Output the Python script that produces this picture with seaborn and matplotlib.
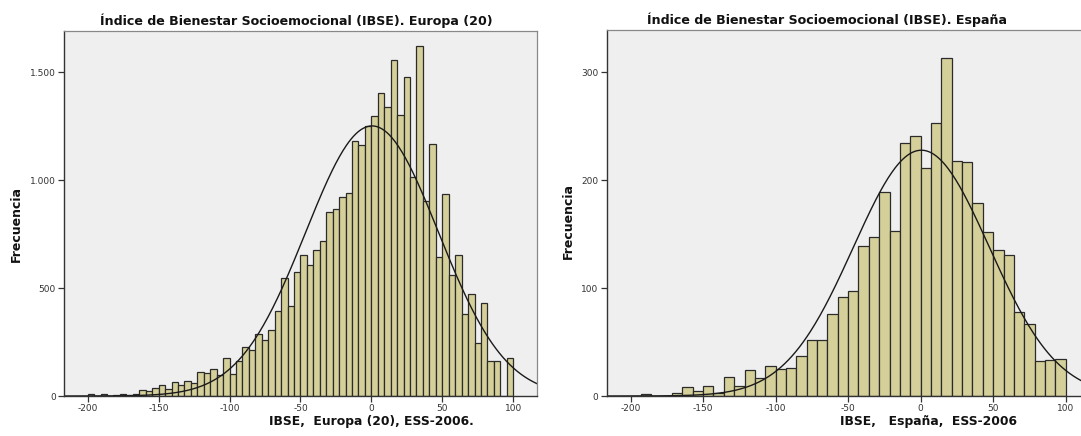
import numpy as np
import pandas as pd
import matplotlib
matplotlib.use("Agg")
import matplotlib.pyplot as plt
import seaborn as sns

# Histogram counts (bins run from -200 to 100)
europa_counts = [8, 0, 8, 0, 5, 8, 6, 11, 26, 25,
                 35, 49, 34, 65, 49, 71, 62, 113, 105, 126,
                 97, 178, 102, 163, 228, 213, 287, 258, 304, 392,
                 545, 418, 573, 654, 606, 674, 716, 852, 867, 920,
                 941, 1182, 1161, 1250, 1295, 1404, 1339, 1558, 1301, 1475,
                 1015, 1620, 903, 1165, 645, 933, 560, 651, 378, 472,
                 247, 429, 162, 162, 0, 174]
espana_counts = [0, 2, 0, 0, 3, 8, 5, 9, 3, 18,
                 9, 24, 17, 28, 25, 26, 37, 52, 52, 76,
                 92, 97, 139, 147, 189, 153, 234, 241, 211, 253,
                 313, 218, 217, 179, 152, 135, 131, 78, 67, 32,
                 33, 34]

# normal curve parameters (mean, sd) as shown by the fitted curves
europa_mu, europa_sd = 0.5, 46.8
espana_mu, espana_sd = 0.5, 46.8

europa_yticks = [0, 500, 1000, 1500]
europa_ylabels = ["0", "500", "1.000", "1.500"]
espana_yticks = [0, 100, 200, 300]
espana_ylabels = ["0", "100", "200", "300"]
xticks = [-200, -150, -100, -50, 0, 50, 100]

titles = ["Índice de Bienestar Socioemocional (IBSE). Europa (20)",
          "Índice de Bienestar Socioemocional (IBSE). España"]
xlabels = ["IBSE,  Europa (20), ESS-2006.", "IBSE,   España,  ESS-2006"]

sns.set_theme(style="white")
plt.rcParams["font.family"] = ["DejaVu Sans"]
plt.rcParams["axes.unicode_minus"] = False

W, H = 1081, 436
fig = plt.figure(figsize=(W / 100, H / 100), dpi=100)

bar_col = "#d5d09a"
bg_col = "#efefef"


def panel(ax, counts, mu, sd, yticks, ylabels, ymax):
    n = len(counts)
    w = 300 / n
    centers = [-200 + w * (i + 0.5) for i in range(n)]
    df = pd.DataFrame({"x": centers, "n": counts})
    sns.histplot(data=df, x="x", weights="n", bins=n, binrange=(-200, 100), ax=ax,
                 color=bar_col, alpha=1, edgecolor="#2b2b2b", linewidth=0.9)
    # fitted normal curve
    total = sum(counts)
    xs = np.linspace(-216.5, 117, 400)
    ys = total * w * np.exp(-0.5 * ((xs - mu) / sd) ** 2) / (sd * np.sqrt(2 * np.pi))
    sns.lineplot(x=xs, y=ys, ax=ax, color="#1a1a1a", linewidth=1.0)
    ax.set_xlim(-216.5, 117)
    ax.set_ylim(0, ymax)
    ax.set_facecolor(bg_col)
    ax.set_xticks(xticks)
    ax.set_xticklabels([str(t) for t in xticks])
    ax.set_yticks(yticks)
    ax.set_yticklabels(ylabels)
    ax.set_xlabel("")
    ax.set_ylabel("")
    ax.tick_params(axis="both", which="major", length=4, width=0.9,
                   color="#333333", labelsize=6.5, labelcolor="#333333",
                   direction="out", pad=2, bottom=True, left=True)
    for side in ["top", "right"]:
        ax.spines[side].set_color("#888888")
        ax.spines[side].set_linewidth(0.9)
    for side in ["left", "bottom"]:
        ax.spines[side].set_color("#333333")
        ax.spines[side].set_linewidth(1.0)


ax1 = fig.add_axes([64.3 / W, 40 / H, (537.3 - 64.3) / W, 365 / H])
panel(ax1, europa_counts, europa_mu, europa_sd, europa_yticks, europa_ylabels, 1690)

ax2 = fig.add_axes([606.7 / W, 40 / H, 483.6 / W, 366 / H])
panel(ax2, espana_counts, espana_mu, espana_sd, espana_yticks, espana_ylabels, 339)

# titles and axis labels placed as in the SPSS output
fig.text(296 / W, 1 - 21 / H, titles[0], ha="center", va="center",
         fontsize=9.1, fontweight="bold", color="#111111")
fig.text(827 / W, 1 - 20 / H, titles[1], ha="center", va="center",
         fontsize=9.1, fontweight="bold", color="#111111")
fig.text(371 / W, 1 - 421 / H, xlabels[0], ha="center", va="center",
         fontsize=8.9, fontweight="bold", color="#111111")
fig.text(928 / W, 1 - 421 / H, xlabels[1], ha="center", va="center",
         fontsize=8.9, fontweight="bold", color="#111111")
fig.text(16 / W, 1 - 224 / H, "Frecuencia", ha="center", va="center",
         rotation=90, fontsize=9, fontweight="bold", color="#111111")
fig.text(568 / W, 1 - 221 / H, "Frecuencia", ha="center", va="center",
         rotation=90, fontsize=9, fontweight="bold", color="#111111")

fig.savefig("out.png", dpi=100, facecolor="white")
plt.close(fig)
